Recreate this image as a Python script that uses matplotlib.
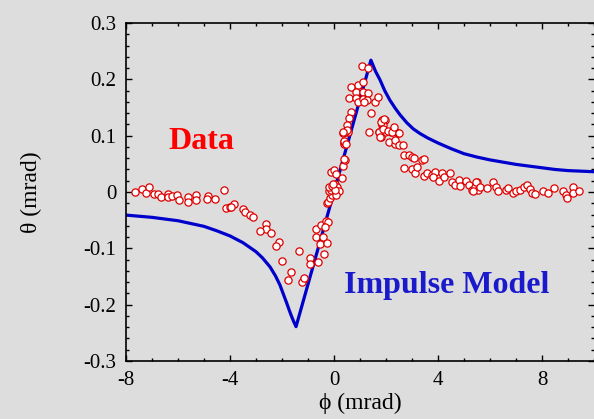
import matplotlib
matplotlib.use("Agg")
import matplotlib.pyplot as plt
from matplotlib.ticker import MultipleLocator

# Impulse model curve (phi in mrad, theta in mrad)
model_phi = [-8.0, -7.5, -7.0, -6.5, -6.0, -5.5, -5.0, -4.5, -4.0, -3.5, -3.0, -2.75,
             -2.46, -2.25, -2.08, -1.95, -1.82, -1.72, -1.63, -1.55, -1.46,
             0.0, 1.42, 1.6, 1.77, 1.95, 2.15, 2.35, 2.54, 2.8, 3.05, 3.3, 3.6, 4.0, 4.5,
             5.0, 5.5, 6.0, 6.5, 7.0, 7.5, 8.0, 8.5, 9.0, 9.5, 10.0]
model_theta = [-0.041, -0.043, -0.045, -0.048, -0.051, -0.056, -0.061, -0.069, -0.078, -0.090,
               -0.106, -0.117, -0.133, -0.149, -0.165, -0.181, -0.197, -0.210, -0.221, -0.230,
               -0.239,
               0.0, 0.234, 0.214, 0.199, 0.180, 0.163, 0.149, 0.137, 0.123, 0.112, 0.104, 0.096,
               0.087, 0.077, 0.068, 0.062, 0.057, 0.053, 0.049, 0.046, 0.043, 0.040, 0.038, 0.037,
               0.036]

# Measured deflection data
data_phi = [
    -7.65, -7.40, -7.23, -7.12, -6.92, -6.78, -6.64, -6.40, -6.37, -6.22, -6.04, -5.96,
    -5.60, -5.60, -5.32, -5.32, -4.85, -4.88, -4.59, -4.23, -4.15, -4.00, -3.85, -3.95,
    -3.50, -3.43, -3.22, -3.13, -2.60, -2.62, -2.83, -2.41, -2.12, -2.22, -1.99, -1.64,
    -1.76, -1.35, -1.15, -1.23, -1.17, -0.92, -0.92, -0.62, -0.68, -0.68, -0.51, -0.43,
    -0.55, -0.37, -0.32, -0.23, -0.33, -0.27, -0.27,
    -0.24, -0.15, -0.07, -0.20, -0.13, -0.18, -0.08, 0.03, 0.10, 0.20, 0.08, 0.04, -0.03,
    -0.12, 0.01, 0.06, 0.30, 0.36, 0.41, 0.37, 0.40, 0.55, 0.33,
    1.06, 1.29, 0.65, 0.94, 1.13, 0.83, 1.10, 1.32, 0.59, 0.85, 0.91, 1.10, 1.26, 1.57,
    1.68, 1.15, 1.42, 0.65, 0.59, 0.49, 0.42, 0.37, 0.45, 0.51, 0.33, 0.40, 1.36,
    1.83, 1.96, 1.83, 1.96, 1.81, 1.74, 2.18, 2.26, 2.12, 2.33, 2.35, 2.45,
    1.73, 1.77, 1.87, 1.80, 1.92, 1.90, 2.09, 2.22, 2.31, 2.50, 2.51, 2.67, 2.69, 2.90,
    2.99, 3.09, 3.37, 3.47, 2.69, 2.99, 3.12, 3.18,
    3.46, 3.56, 3.76, 3.88, 3.80, 4.04, 4.14, 4.23, 4.46, 4.53, 4.65, 4.82, 4.85, 5.08,
    5.20, 5.30, 5.42, 5.49, 5.55,
    5.36, 5.46, 5.62, 5.87, 6.10, 6.22, 6.32, 6.62, 6.68, 6.90, 7.00, 7.15, 7.31, 7.43,
    7.54, 7.60, 7.73, 8.05, 8.24, 8.47, 8.80, 8.92, 8.95, 9.20, 9.18, 9.43,
]
data_theta = [
    0.000, 0.005, -0.002, 0.008, -0.004, -0.004, -0.009, -0.004, -0.008, -0.007, -0.005, -0.014,
    -0.008, -0.018, -0.005, -0.015, -0.007, -0.012, -0.013, 0.004, -0.028, -0.026, -0.022, -0.026,
    -0.031, -0.036, -0.040, -0.044, -0.057, -0.065, -0.069, -0.072, -0.089, -0.095, -0.122, -0.142,
    -0.157, -0.104, -0.154, -0.159, -0.152, -0.118, -0.128, -0.124, -0.066, -0.080, -0.059, -0.079,
    -0.092, -0.110, -0.051, -0.054, -0.063, -0.091, -0.019,
    -0.017, -0.011, -0.005, 0.001, 0.004, 0.008, 0.011, 0.014, 0.009, 0.001, -0.006, 0.004, 0.015,
    0.036, 0.039, 0.032, 0.025, 0.047, 0.056, 0.086, 0.089, 0.107, 0.105,
    0.223, 0.221, 0.187, 0.190, 0.195, 0.177, 0.177, 0.175, 0.167, 0.166, 0.160, 0.165, 0.163, 0.159,
    0.168, 0.159, 0.140, 0.142, 0.131, 0.119, 0.107, 0.091, 0.085, 0.110, 0.107, 0.058, 0.107,
    0.128, 0.127, 0.119, 0.107, 0.098, 0.107, 0.107, 0.110, 0.088, 0.085, 0.092, 0.104,
    0.107, 0.098, 0.119, 0.125, 0.129, 0.112, 0.109, 0.106, 0.116, 0.104, 0.083, 0.083, 0.066, 0.066,
    0.062, 0.060, 0.057, 0.059, 0.043, 0.041, 0.034, 0.045,
    0.028, 0.034, 0.030, 0.036, 0.026, 0.020, 0.033, 0.026, 0.034, 0.018, 0.012, 0.021, 0.011, 0.020,
    0.012, 0.004, 0.008, 0.018, 0.004,
    0.002, 0.017, 0.009, 0.007, 0.017, 0.008, 0.001, 0.004, 0.007, -0.002, 0.001, 0.004, 0.008, 0.012,
    0.005, -0.001, -0.004, 0.001, -0.002, 0.007, 0.002, -0.005, -0.011, 0.008, -0.001, 0.001,
]

x_ticks = [-8, -4, 0, 4, 8]
x_tick_labels = ["-8", "-4", "0", "4", "8"]
y_ticks = [-0.3, -0.2, -0.1, 0.0, 0.1, 0.2, 0.3]
y_tick_labels = ["-0.3", "-0.2", "-0.1", "0", "0.1", "0.2", "0.3"]

bg = "#dddddd"
serif = ["Liberation Serif", "DejaVu Serif"]

fig = plt.figure(figsize=(5.94, 4.19), dpi=100, facecolor=bg)
ax = fig.add_axes([126 / 594, 1 - 361 / 419, 468 / 594, 338 / 419])
ax.set_facecolor(bg)

ax.plot(model_phi, model_theta, color="#0000cc", lw=2.3, zorder=2,
        solid_joinstyle="round")
ax.plot(data_phi, data_theta, ls="none", marker="o", ms=5.2, mfc="white",
        mec="#dd0000", mew=0.9, zorder=3)

ax.set_xlim(-8, 10)
ax.set_ylim(-0.3, 0.3)
ax.set_xticks(x_ticks)
ax.set_xticklabels(x_tick_labels)
ax.set_yticks(y_ticks)
ax.set_yticklabels(y_tick_labels)
ax.xaxis.set_minor_locator(MultipleLocator(1))
ax.yaxis.set_minor_locator(MultipleLocator(0.02))

ax.tick_params(which="both", direction="in", top=True, right=True,
               color="black", width=1.0)
ax.tick_params(which="major", length=4.5, labelsize=15, pad=7)
ax.tick_params(which="minor", length=2.5)
for lab in ax.get_xticklabels() + ax.get_yticklabels():
    lab.set_family(serif)

for side in ("left", "bottom", "top"):
    ax.spines[side].set_linewidth(1.2)
ax.spines["right"].set_visible(False)

ax.set_xlabel("\u03d5 (mrad)", fontsize=17, family=serif, labelpad=2)
ax.set_ylabel("\u03b8 (mrad)", fontsize=17, family=serif, labelpad=30)

ax.text(-5.1, 0.077, "Data", color="#ff0000", fontsize=23, fontweight="bold",
        family=serif, ha="center", va="baseline")
ax.text(0.4, -0.18, "Impulse Model", color="#1a1acc", fontsize=23, fontweight="bold",
        family=serif, ha="left", va="baseline")

fig.savefig("out.png", dpi=100, facecolor=bg)
